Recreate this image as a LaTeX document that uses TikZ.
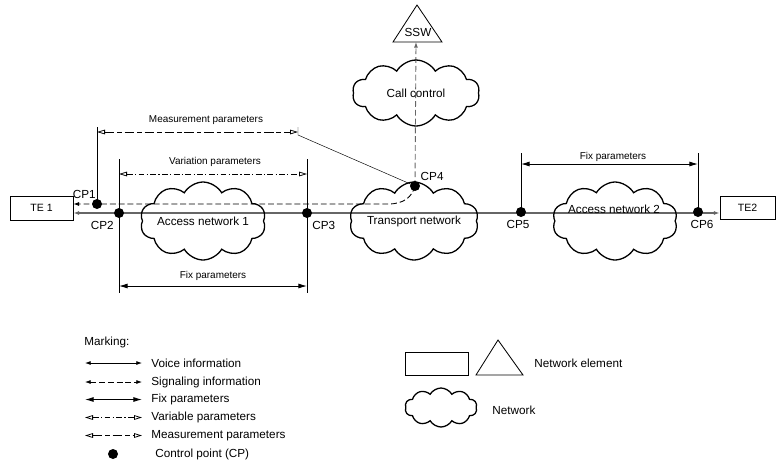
\documentclass[tikz,border=0pt]{standalone}
\usepackage{fontspec}
\setmainfont{Liberation Sans}
\usetikzlibrary{shapes.symbols,arrows.meta,backgrounds}

\tikzset{
  net/.style={cloud, cloud puffs=10, cloud puff arc=120, cloud ignores aspect,
    draw, line width=1.1pt, inner sep=0pt, font=\fontsize{10}{12}\selectfont},
  elem/.style={draw, line width=0.6pt, inner sep=0pt, font=\fontsize{9}{11}\selectfont},
  cpdot/.style={circle, fill, inner sep=0pt, minimum size=0.3cm},
  cplab/.style={font=\fontsize{10}{12}\selectfont, inner sep=1pt},
  parlab/.style={font=\fontsize{8.5}{10}\selectfont},
  legtext/.style={anchor=west, font=\fontsize{10}{12}\selectfont, inner sep=0pt},
  voice/.style={line width=1pt, black!60},
  sig/.style={line width=0.75pt, dash pattern=on 5pt off 2.5pt},
  fix/.style={line width=0.75pt, {Latex[length=0.26cm,width=0.15cm]}-{Latex[length=0.26cm,width=0.15cm]}},
  vari/.style={line width=0.65pt, dash pattern=on 5pt off 2pt on 1pt off 2pt,
    {Triangle[open,length=0.24cm,width=0.14cm]}-{Triangle[open,length=0.24cm,width=0.14cm]}},
  meas/.style={line width=0.65pt, dash pattern=on 8pt off 2.5pt on 4pt off 2.5pt,
    {Triangle[open,length=0.24cm,width=0.14cm]}-{Triangle[open,length=0.24cm,width=0.14cm]}},
  small tip/.style={-{Latex[length=0.17cm,width=0.12cm]}}
}

\begin{document}
\begin{tikzpicture}[x=0.03cm, y=-0.03cm, line width=0.7pt]
  \useasboundingbox (0,0) rectangle (776,466);

  % network elements
  \node[elem, minimum width=1.89cm, minimum height=0.72cm] (te1) at (41.5,208) {TE 1};
  \node[elem, minimum width=1.65cm, minimum height=0.69cm] (te2) at (747.5,208) {TE2};
  \draw (393,42) -- (417,5) -- (442,42) -- cycle;
  \node[font=\fontsize{10}{12}\selectfont] (ssw) at (418,32) {SSW};
  \coordinate (sswbase) at (416,42);

  % networks
  \node[net, minimum width=3.69cm, minimum height=2.34cm] (an1) at (203,221) {Access network 1};
  \node[net, minimum width=3.66cm, minimum height=2.34cm] (tn) at (414,221) {Transport network};
  \node[net, minimum width=3.75cm, minimum height=2.34cm] (an2) at (615,221) {};
  \node[font=\fontsize{10}{12}\selectfont] (an2text) at (614,209) {Access network 2};
  \node[net, minimum width=3.81cm, minimum height=1.98cm] (cc) at (416,93) {Call control};

  % control points
  \node[cpdot, label={[cplab, xshift=0.12cm]above left:CP1}] (cp1) at (97,204) {};
  \node[cpdot, label={[cplab, yshift=-0.1cm]below left:CP2}] (cp2) at (119,213) {};
  \node[cpdot, label={[cplab, yshift=-0.08cm]below right:CP3}] (cp3) at (307,213) {};
  \node[cpdot, label={[cplab]40:CP4}] (cp4) at (415,186) {};
  \node[cpdot, label={[cplab, xshift=-0.09cm, yshift=-0.05cm]below:CP5}] (cp5) at (521,212) {};
  \node[cpdot, label={[cplab, xshift=0.12cm, yshift=-0.05cm]below:CP6}] (cp6) at (698,212) {};

  \begin{scope}[on background layer]
    % voice and signaling
    \draw[voice, {Latex[length=0.17cm,width=0.12cm]}-{Latex[length=0.17cm,width=0.12cm]}]
      (te1.east |- cp2) -- (te2.west |- cp2);
    \draw[sig, small tip] (cp4.center) .. controls (412,197) and (404,204) .. (388,204) -- (te1.east |- cp1);
    \draw[sig, black!60, small tip] (cp4.center) -- (sswbase);

    % measurement parameters
    \draw (cp1.center) -- (97,127);
    \draw (298,127) -- (298,135) -- (cp4.center);

    % ticks of the parameter ranges
    \draw (cp2.center) -- (119,159);
    \draw (cp2.center) -- (119,293);
    \draw (cp3.center) -- (307,159);
    \draw (cp3.center) -- (307,293);
    \draw (cp5.center) -- (521,153);
    \draw (cp6.center) -- (698,153);
  \end{scope}

  \draw[meas] (97,132) -- (298,132);
  \node[parlab] (meastext) at (206,120) {Measurement parameters};
  \draw[vari] (119,174) -- (307,174);
  \node[parlab] (vartext) at (215,162) {Variation parameters};
  \draw[fix] (119,286) -- (307,286);
  \node[parlab] (fixtext) at (213,276) {Fix parameters};
  \draw[fix] (521,164) -- (698,164);
  \node[parlab] (fixtexttwo) at (613,157) {Fix parameters};

  % marking
  \node[legtext] (marking) at (84,342) {Marking:};
  \draw[{Latex[length=0.17cm,width=0.12cm]}-{Latex[length=0.17cm,width=0.12cm]}] (85,363) -- (142,363);
  \node[legtext] (lvoice) at (151,363) {Voice information};
  \draw[sig, line width=0.65pt, {Latex[length=0.17cm,width=0.12cm]}-{Latex[length=0.17cm,width=0.12cm]}] (85,382) -- (142,382);
  \node[legtext] (lsig) at (151,382) {Signaling information};
  \draw[fix] (85,399.5) -- (142,399.5);
  \node[legtext] (lfix) at (151,399.5) {Fix parameters};
  \draw[vari] (85,417.5) -- (142,417.5);
  \node[legtext] (lvar) at (151,417.5) {Variable parameters};
  \draw[meas] (85,435.5) -- (142,435.5);
  \node[legtext] (lmeas) at (151,435.5) {Measurement parameters};
  \node[cpdot] (lcp) at (113,454) {};
  \node[legtext] (lcptext) at (155,454) {Control point (CP)};

  % element legend
  \node[elem, minimum width=1.89cm, minimum height=0.69cm] (lbox) at (436.5,363.5) {};
  \draw (476,375) -- (498,340) -- (523,375) -- cycle;
  \node[legtext] (lelem) at (534,363) {Network element};
  \node[net, minimum width=2.16cm, minimum height=1.17cm] (lnet) at (441,407.5) {};
  \node[legtext] (lnettext) at (492,410) {Network};
\end{tikzpicture}
\end{document}
